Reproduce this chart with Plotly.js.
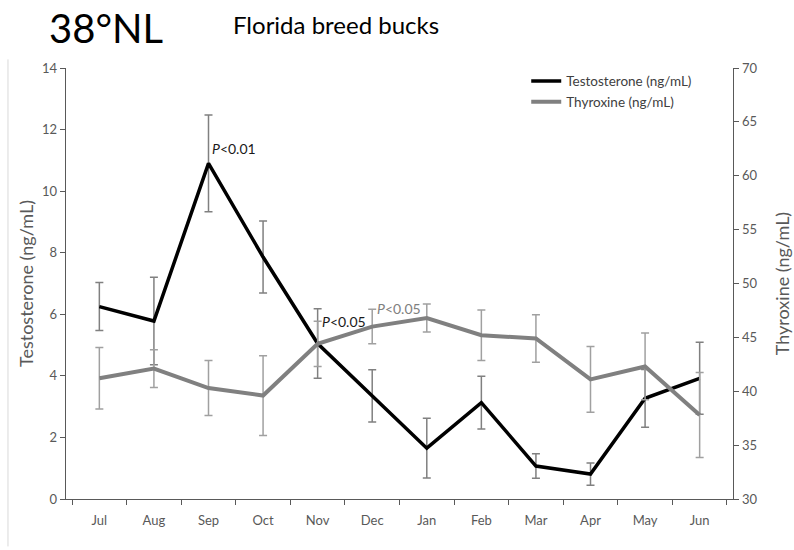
<!DOCTYPE html>
<html>
<head>
<meta charset="utf-8">
<script src="https://cdn.plot.ly/plotly-3.0.1.min.js"></script>
<style>html,body{margin:0;padding:0;background:#fff;}#chart{width:794px;height:550px;}</style>
</head>
<body>
<div id="chart"></div>
<script>
const months = ["Jul","Aug","Sep","Oct","Nov","Dec","Jan","Feb","Mar","Apr","May","Jun"];
const testosterone = [6.25, 5.78, 10.9, 7.86, 5.05, 3.35, 1.65, 3.13, 1.07, 0.81, 3.27, 3.92];
const testosteroneSE = [0.78, 1.42, 1.57, 1.17, 1.13, 0.85, 0.97, 0.86, 0.40, 0.36, 0.94, 1.17];
const thyroxine = [41.2, 42.1, 40.3, 39.6, 44.4, 46.0, 46.8, 45.2, 44.9, 41.1, 42.3, 37.8];
const thyroxineSE = [2.85, 1.75, 2.55, 3.7, 2.1, 1.6, 1.3, 2.35, 2.2, 3.05, 3.1, 3.95];
const leftTicks = [0, 2, 4, 6, 8, 10, 12, 14];
const rightTicks = [30, 35, 40, 45, 50, 55, 60, 65, 70];

const axisGrey = "#595959";
const font = "Lato, 'Noto Sans', sans-serif";

const traces = [
  {
    x: months, y: thyroxine, yaxis: "y2", name: "Thyroxine (ng/mL)",
    type: "scatter", mode: "lines",
    line: {color: "#808080", width: 4},
    error_y: {type: "data", array: thyroxineSE, visible: true, color: "#a0a0a0", thickness: 1.5, width: 4}
  },
  {
    x: months, y: testosterone, yaxis: "y", name: "Testosterone (ng/mL)",
    type: "scatter", mode: "lines",
    line: {color: "#000000", width: 3.5},
    error_y: {type: "data", array: testosteroneSE, visible: true, color: "#808080", thickness: 1.5, width: 4}
  }
];

const layout = {
  width: 794, height: 550,
  margin: {l: 66, r: 61, t: 68, b: 51},
  paper_bgcolor: "#ffffff", plot_bgcolor: "#ffffff",
  font: {family: font, color: axisGrey, size: 13},
  showlegend: true,
  legend: {
    x: 0.69, y: 1.005, xanchor: "left", yanchor: "top",
    traceorder: "reversed", bgcolor: "rgba(0,0,0,0)",
    font: {family: font, size: 13.5, color: "#404040"},
    itemwidth: 30, tracegroupgap: 0
  },
  xaxis: {
    type: "category", tickson: "boundaries", ticks: "outside", ticklen: 5, tickcolor: "#595959",
    showline: true, linecolor: "#595959", linewidth: 1.3, showgrid: false, zeroline: false,
    ticklabelstandoff: 9,
    tickfont: {family: font, size: 13, color: axisGrey}, fixedrange: true
  },
  yaxis: {
    range: [0, 14], tickvals: leftTicks, ticks: "outside", ticklen: 5, tickcolor: "#595959",
    showline: true, linecolor: "#595959", linewidth: 1.3, showgrid: false, zeroline: false,
    tickfont: {family: font, size: 13, color: axisGrey},
    title: {text: "Testosterone (ng/mL)", font: {family: font, size: 18, color: axisGrey}, standoff: 3}
  },
  yaxis2: {
    range: [30, 70], tickvals: rightTicks, overlaying: "y", side: "right", anchor: "x",
    ticks: "outside", ticklen: 5, tickcolor: "#595959",
    showline: true, linecolor: "#595959", linewidth: 1.3, showgrid: false, zeroline: false,
    tickfont: {family: font, size: 13, color: axisGrey},
    title: {text: "Thyroxine (ng/mL)", font: {family: font, size: 18, color: axisGrey}, standoff: 20}
  },
  shapes: [
    {type: "line", xref: "paper", yref: "paper", x0: -0.087, x1: -0.087, y0: -0.11, y1: 1.02,
     line: {color: "#d9d9d9", width: 1}}
  ],
  annotations: [
    {text: "38°NL", xref: "paper", yref: "paper", x: -0.029, y: 1.093, xanchor: "left", yanchor: "middle",
     showarrow: false, font: {family: font, size: 40, color: "#000000"}},
    {text: "Florida breed bucks", xref: "paper", yref: "paper", x: 0.247, y: 1.1, xanchor: "left", yanchor: "middle",
     showarrow: false, font: {family: font, size: 24, color: "#000000"}},
    {text: "<i>P</i>&lt;0.01", xref: "x", yref: "y", x: "Sep", y: testosterone[2], xanchor: "left", yanchor: "bottom",
     xshift: 1, yshift: 4, showarrow: false, font: {family: font, size: 14, color: "#1a1a1a"}},
    {text: "<i>P</i>&lt;0.05", xref: "x", yref: "y", x: "Nov", y: testosterone[4], xanchor: "left", yanchor: "middle",
     xshift: 2, yshift: 22, showarrow: false, font: {family: font, size: 14, color: "#1a1a1a"}},
    {text: "<i>P</i>&lt;0.05", xref: "x", yref: "y2", x: "Dec", y: thyroxine[5], xanchor: "left", yanchor: "middle",
     xshift: 3, yshift: 18, showarrow: false, font: {family: font, size: 14, color: "#808080"}}
  ]
};

Plotly.newPlot("chart", traces, layout, {staticPlot: true, displayModeBar: false});
</script>
</body>
</html>
